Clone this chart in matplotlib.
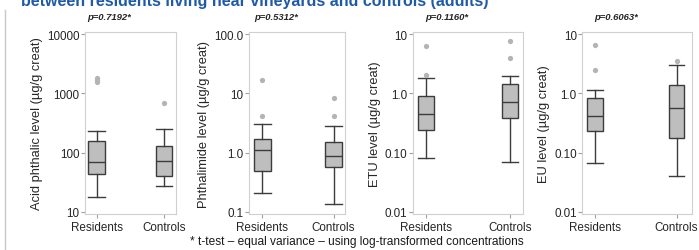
import numpy as np
import matplotlib.pyplot as plt
from matplotlib.lines import Line2D

plt.rcParams['font.family'] = ['Liberation Sans', 'DejaVu Sans']

groups = ['Residents', 'Controls']

# box statistics: whislo, q1, med, q3, whishi, outliers
acid_res = [18, 43, 70, 155, 230]
acid_res_out = [1550, 1650, 1800]
acid_ctl = [27, 40, 72, 130, 250]
acid_ctl_out = [700]

phth_res = [0.21, 0.49, 1.12, 1.68, 3.0]
phth_res_out = [4.1, 16.8]
phth_ctl = [0.137, 0.58, 0.88, 1.52, 2.8]
phth_ctl_out = [4.1, 8.3]

etu_res = [0.081, 0.24, 0.45, 0.90, 1.8]
etu_res_out = [2.05, 6.2]
etu_ctl = [0.069, 0.39, 0.72, 1.42, 2.0]
etu_ctl_out = [4.0, 7.7]

eu_res = [0.068, 0.23, 0.41, 0.83, 1.12]
eu_res_out = [2.5, 6.6]
eu_ctl = [0.04, 0.18, 0.56, 1.4, 3.0]
eu_ctl_out = [3.5]

p_values = ['p=0.7192*', 'p=0.5312*', 'p=0.1160*', 'p=0.6063*']
ylabels = ['Acid phthalic level (µg/g creat)', 'Phthalimide level (µg/g creat)',
           'ETU level (µg/g creat)', 'EU level (µg/g creat)']
yticks = [[10, 100, 1000, 10000], [0.1, 1, 10, 100], [0.01, 0.1, 1, 10], [0.01, 0.1, 1, 10]]
yticklabels = [['10', '100', '1000', '10000'], ['0.1', '1.0', '10', '100.0'],
               ['0.01', '0.10', '1.0', '10'], ['0.01', '0.10', '1.0', '10']]

panels = [
    (acid_res, acid_res_out, acid_ctl, acid_ctl_out),
    (phth_res, phth_res_out, phth_ctl, phth_ctl_out),
    (etu_res, etu_res_out, etu_ctl, etu_ctl_out),
    (eu_res, eu_res_out, eu_ctl, eu_ctl_out),
]

# layout (figure fractions)
lefts = [0.1216, 0.356, 0.591, 0.833]
widths = [0.130, 0.137, 0.157, 0.157]
xlims = [(0.824, 2.176), (0.81, 2.155), (0.845, 2.155), (0.845, 2.19)]
boxw = [0.25, 0.24, 0.19, 0.19]

fig = plt.figure(figsize=(6.99, 2.51), dpi=100)

for i, (res, res_out, ctl, ctl_out) in enumerate(panels):
    ax = fig.add_axes([lefts[i], 0.1434, widths[i], 0.725])
    stats = []
    for name, s, out in [(groups[0], res, res_out), (groups[1], ctl, ctl_out)]:
        stats.append(dict(label=name, whislo=s[0], q1=s[1], med=s[2], q3=s[3],
                          whishi=s[4], fliers=out))
    ax.bxp(stats, positions=[1, 2], widths=boxw[i], capwidths=boxw[i],
           patch_artist=True, showfliers=True,
           boxprops=dict(facecolor='#bebebe', edgecolor='#3c3c3c', linewidth=1.0),
           medianprops=dict(color='#3c3c3c', linewidth=1.0),
           whiskerprops=dict(color='#3c3c3c', linewidth=1.0),
           capprops=dict(color='#3c3c3c', linewidth=1.0),
           flierprops=dict(marker='o', markerfacecolor='#b4b4b4',
                           markeredgecolor='none', markersize=3.8))
    ax.set_yscale('log')
    lo, hi = np.log10(yticks[i][0]), np.log10(yticks[i][-1])
    ax.set_ylim(10 ** (lo - 0.035), 10 ** (hi + 0.035))
    ax.set_xlim(*xlims[i])
    ax.set_yticks(yticks[i])
    ax.set_yticklabels(yticklabels[i])
    ax.yaxis.set_minor_locator(plt.NullLocator())
    ax.set_xticks([1, 2])
    ax.set_xticklabels(groups)
    ax.tick_params(colors='#a0a0a0', labelcolor='#262626', labelsize=8.4, length=3, width=0.8)
    ax.tick_params(axis='x', pad=2)
    ax.tick_params(axis='y', pad=1)
    for sp in ax.spines.values():
        sp.set_color('#d0d0d0')
        sp.set_linewidth(0.8)
    ax.set_ylabel(ylabels[i], fontsize=9.3, color='#262626', labelpad=3)
    ax.annotate(p_values[i], xy=(0.5, 1), xycoords='axes fraction',
                xytext=(-15, 8), textcoords='offset points', ha='center', va='bottom',
                fontsize=6.8, fontweight='bold', fontstyle='italic', color='#262626')

fig.text(0.03, 0.976, 'between residents living near vineyards and controls (adults)',
         fontsize=11.5, fontweight='bold', color='#1f5aa6', ha='left', va='baseline')
fig.text(0.51, 0.036, '* t-test \u2013 equal variance \u2013 using log-transformed concentrations',
         fontsize=8.6, color='#1a1a1a', ha='center', va='center')
fig.add_artist(Line2D([0.0065, 0.0065], [0.0, 0.955], color='#c8c8c8', linewidth=1.0))

fig.savefig('out.png', dpi=100)
